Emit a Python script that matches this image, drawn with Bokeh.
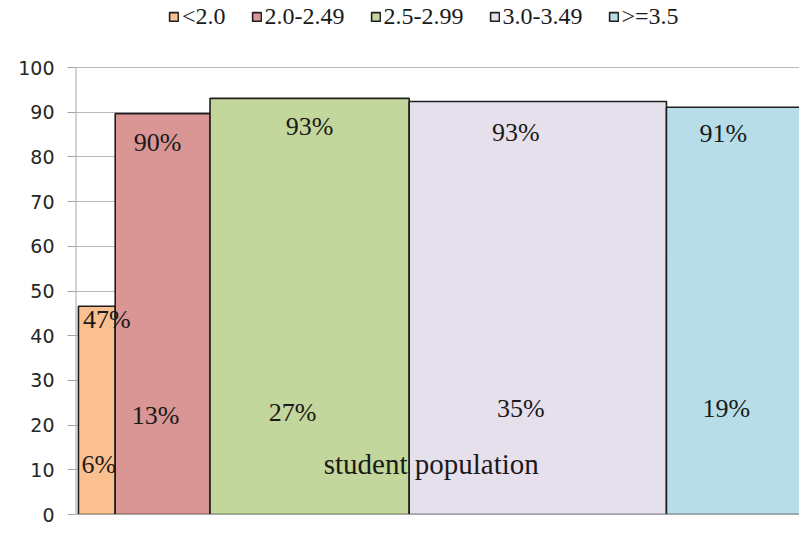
from bokeh.plotting import figure
from bokeh.models import ColumnDataSource, Legend, LegendItem, Range1d, FixedTicker, Label
from bokeh.embed import file_html
from bokeh.resources import INLINE
from bokeh.core.properties import value

# ---- data ----
grades = ["<2.0", "2.0-2.49", "2.5-2.99", "3.0-3.49", ">=3.5"]
population_share = [5.0, 12.9, 27.1, 35.0, 19.0]      # bar widths (% of students)
share_labels = ["6%", "13%", "27%", "35%", "19%"]
success_rate = [46.6, 89.7, 93.1, 92.4, 91.1]          # bar heights
rate_labels = ["47%", "90%", "93%", "93%", "91%"]
y_ticks = [0, 10, 20, 30, 40, 50, 60, 70, 80, 90, 100]
x_title = "student population"

# ---- styles / layout ----
colors = ["#FAC090", "#D99694", "#C3D69B", "#E6E0EC", "#B7DEE8"]
rate_xoff = [10, -5, 0, -22, -13]
rate_yoff = [-1, 14, 14, 16, 12]
share_xoff = [2, -7, -17, -17, -10]
share_y = [11.2, 22.2, 22.8, 23.7, 23.7]
Y_TOP = 115.0     # extra head-room above 100 holds the legend
X_START = -0.4

lefts, rights = [], []
acc = 0.0
for w in population_share:
    lefts.append(acc)
    acc += w
    rights.append(acc)
centers = [(l + r) / 2 for l, r in zip(lefts, rights)]

src = ColumnDataSource(dict(left=lefts, right=rights, top=success_rate,
                            bottom=[0] * len(grades), color=colors, grade=grades))

p = figure(width=799, height=541, output_backend="svg", toolbar_location=None,
           x_range=Range1d(X_START, 98.1), y_range=Range1d(0, Y_TOP),
           min_border_left=75, min_border_right=0, min_border_top=0, min_border_bottom=27)
p.outline_line_color = None
p.background_fill_color = "white"

r = p.quad(left="left", right="right", top="top", bottom="bottom", source=src,
           fill_color="color", line_color="#1f1f1f", line_width=1.6)

# y axis line drawn only from 0 to 100
p.segment(x0=[X_START], y0=[0], x1=[X_START], y1=[y_ticks[-1]],
          line_color="#a6a6a6", line_width=2)

# axes
p.yaxis.ticker = FixedTicker(ticks=y_ticks)
p.yaxis.axis_line_color = None
p.yaxis.major_tick_line_color = "#a6a6a6"
p.yaxis.major_tick_out = 8
p.yaxis.major_tick_in = 0
p.yaxis.minor_tick_line_color = None
p.yaxis.major_label_text_font = "DejaVu Sans"
p.yaxis.major_label_text_font_size = "19px"
p.yaxis.major_label_text_color = "#262626"
p.yaxis.major_label_standoff = 13

p.xaxis.ticker = FixedTicker(ticks=[])
p.xaxis.axis_line_color = "#a6a6a6"
p.xaxis.major_tick_line_color = None
p.xaxis.minor_tick_line_color = None

p.xgrid.visible = False
p.ygrid.grid_line_color = "#b8b8b8"
p.ygrid.ticker = FixedTicker(ticks=y_ticks)

# labels
rate_src = ColumnDataSource(dict(x=centers, y=success_rate, text=rate_labels,
                                 xo=rate_xoff, yo=rate_yoff))
p.text(x="x", y="y", text="text", x_offset="xo", y_offset="yo", source=rate_src,
       text_align="center", text_baseline="top", text_font=value("Liberation Serif"),
       text_font_size="26px", text_color="#1a1a1a")

share_src = ColumnDataSource(dict(x=centers, y=share_y, text=share_labels, xo=share_xoff))
p.text(x="x", y="y", text="text", x_offset="xo", source=share_src,
       text_align="center", text_baseline="middle", text_font=value("Liberation Serif"),
       text_font_size="26px", text_color="#1a1a1a")

p.add_layout(Label(x=48.0, y=11.4, text=x_title, text_align="center", text_baseline="middle",
                   text_font="Liberation Serif", text_font_size="29px", text_color="#1a1a1a"))

# legend
items = [LegendItem(label=g, renderers=[r], index=i) for i, g in enumerate(grades)]
legend = Legend(items=items, orientation="horizontal", location=(93, 484),
                label_text_font="Liberation Serif", label_text_font_size="24px",
                label_text_color="#1a1a1a", glyph_width=11, glyph_height=11,
                label_standoff=3, spacing=25, padding=0, margin=0, label_height=18,
                border_line_color=None, background_fill_alpha=0)
p.add_layout(legend, "center")

open("out.html", "w").write(file_html(p, INLINE))
